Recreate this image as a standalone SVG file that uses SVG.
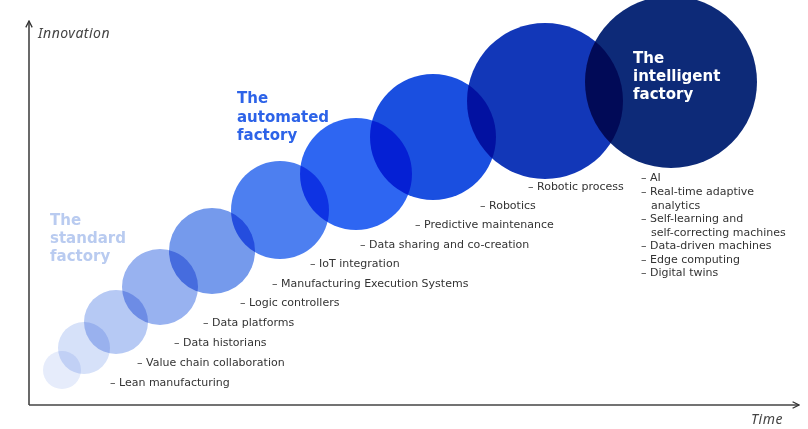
<svg xmlns="http://www.w3.org/2000/svg" width="808" height="429" viewBox="0 0 808 429">
<defs>
<style>
.c{mix-blend-mode:multiply}
.lbl{font-family:"DejaVu Sans","Noto Sans",sans-serif;font-size:11px;fill:#333}
.h{font-family:"DejaVu Sans","Noto Sans",sans-serif;font-size:15px;font-weight:bold}
.ax{font-family:"Noto Sans","Liberation Sans",sans-serif;font-size:14px;font-style:italic;fill:#444;letter-spacing:0.5px}
</style>
<marker id="ar" viewBox="0 0 10 10" refX="9" refY="5" markerWidth="8" markerHeight="8" orient="auto-start-reverse" markerUnits="userSpaceOnUse">
<path d="M1,1 L9,5 L1,9" fill="none" stroke="#333" stroke-width="1.6"/>
</marker>
</defs>
<rect width="808" height="429" fill="#fff"/>
<g id="connectors">
<line x1="29" y1="405" x2="29" y2="21" stroke="#444" stroke-width="1.6" marker-end="url(#ar)"/>
<line x1="29" y1="405" x2="799" y2="405" stroke="#444" stroke-width="1.6" marker-end="url(#ar)"/>
</g>
<g id="circles">
<circle class="c" cx="62" cy="370" r="19" fill="#e6ecfb"/>
<circle class="c" cx="84" cy="348" r="26" fill="#d6e1f9"/>
<circle class="c" cx="116" cy="322" r="32" fill="#b6c9f4"/>
<circle class="c" cx="160" cy="287" r="38" fill="#98b2f0"/>
<circle class="c" cx="212" cy="251" r="43" fill="#759aec"/>
<circle class="c" cx="280" cy="210" r="49" fill="#4d7ff0"/>
<circle class="c" cx="356" cy="174" r="56" fill="#2e66f2"/>
<circle class="c" cx="433" cy="137" r="63" fill="#1a4fe0"/>
<circle class="c" cx="545" cy="101" r="78" fill="#1237b8"/>
<circle class="c" cx="671" cy="82" r="86" fill="#0d2a78"/>
</g>
<g id="standard">
<text class="h" fill="#b9cbf0"><tspan x="50" y="225">The</tspan><tspan x="50" y="243">standard</tspan><tspan x="50" y="261">factory</tspan></text>
</g>
<g id="automated">
<text class="h" fill="#2d63e8"><tspan x="237" y="103">The</tspan><tspan x="237" y="121.5">automated</tspan><tspan x="237" y="140">factory</tspan></text>
</g>
<g id="intelligent">
<text class="h" fill="#ffffff"><tspan x="633" y="63">The</tspan><tspan x="633" y="81">intelligent</tspan><tspan x="633" y="99">factory</tspan></text>
</g>
<g id="items">
<text class="lbl" x="110" y="386">– Lean manufacturing</text>
<text class="lbl" x="137" y="366">– Value chain collaboration</text>
<text class="lbl" x="174" y="346">– Data historians</text>
<text class="lbl" x="203" y="326">– Data platforms</text>
<text class="lbl" x="240" y="306">– Logic controllers</text>
<text class="lbl" x="272" y="287">– Manufacturing Execution Systems</text>
<text class="lbl" x="310" y="267">– IoT integration</text>
<text class="lbl" x="360" y="248">– Data sharing and co-creation</text>
<text class="lbl" x="415" y="228">– Predictive maintenance</text>
<text class="lbl" x="480" y="209">– Robotics</text>
<text class="lbl" x="528" y="190">– Robotic process</text>
<text class="lbl" x="641" y="181">– AI</text>
<text class="lbl" x="641" y="195">– Real-time adaptive</text>
<text class="lbl" x="651" y="208.5">analytics</text>
<text class="lbl" x="641" y="222">– Self-learning and</text>
<text class="lbl" x="651" y="235.5">self-correcting machines</text>
<text class="lbl" x="641" y="249">– Data-driven machines</text>
<text class="lbl" x="641" y="262.5">– Edge computing</text>
<text class="lbl" x="641" y="276">– Digital twins</text>
</g>
<g id="axis-labels">
<text class="ax" x="38" y="38">Innovation</text>
<text class="ax" x="751" y="424">Time</text>
</g>
</svg>
